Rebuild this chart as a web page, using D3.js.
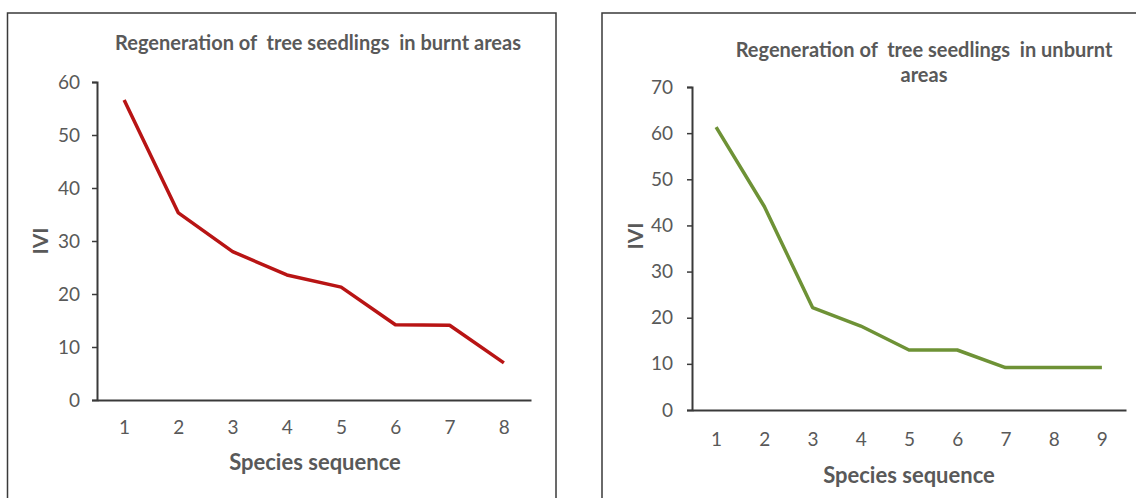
<!DOCTYPE html>
<html>
<head>
<meta charset="utf-8">
<script src="https://cdn.jsdelivr.net/npm/d3@7"></script>
<style>
  body { margin: 0; background: #fff; }
  svg { display: block; }
  text { font-family: Lato, "Open Sans", sans-serif; fill: #595959; }
</style>
</head>
<body>
<svg id="chart" width="1136" height="498"></svg>
<script>
// burnt areas
var burntSpecies = [1, 2, 3, 4, 5, 6, 7, 8];
var burntIVI = [56.6, 35.3, 28.0, 23.6, 21.3, 14.2, 14.1, 7.0];
var burntTicks = [0, 10, 20, 30, 40, 50, 60];

// unburnt areas
var unburntSpecies = [1, 2, 3, 4, 5, 6, 7, 8, 9];
var unburntIVI = [61.3, 44.1, 22.2, 18.2, 13.0, 13.0, 9.2, 9.2, 9.2];
var unburntTicks = [0, 10, 20, 30, 40, 50, 60, 70];

var svg = d3.select("#chart");

// one framed panel with its own line chart
function drawPanel(p){
    var g = svg.append("g");

    g.append("rect")
        .attr("x", p.frame[0]).attr("y", p.frame[1])
        .attr("width", p.frame[2]).attr("height", p.frame[3])
        .attr("fill", "none")
        .attr("stroke", "#3a3a3a")
        .attr("stroke-width", 1.5);

    var x = d3.scaleLinear()
        .domain([0.5, p.species.length + 0.5])
        .range([p.left, p.right]);
    var y = d3.scaleLinear()
        .domain([0, d3.max(p.ticks)])
        .range([p.bottom, p.top]);

    // y axis
    var yAxis = g.append("g")
        .attr("transform", "translate(" + p.left + ",0)")
        .call(d3.axisLeft(y).tickValues(p.ticks).tickSize(5).tickPadding(p.yPad));
    yAxis.attr("font-size", null);
    yAxis.selectAll("text").style("font-size", "19px").attr("fill", "#595959");

    // x axis, no tick marks
    var xAxis = g.append("g")
        .attr("transform", "translate(0," + p.bottom + ")")
        .call(d3.axisBottom(x).tickValues(p.species).tickSize(0).tickPadding(p.xPad)
            .tickFormat(d3.format("d")));
    xAxis.attr("font-size", null);
    xAxis.selectAll("text").style("font-size", "19px").attr("fill", "#595959");

    g.selectAll(".domain").attr("stroke", "#3a3a3a").attr("stroke-width", 2);
    g.selectAll(".tick line").attr("stroke", "#3a3a3a").attr("stroke-width", 1.5);

    var line = d3.line()
        .x(function(d, i){ return x(p.species[i]); })
        .y(function(d){ return y(d); });

    g.append("path")
        .datum(p.values)
        .attr("d", line)
        .attr("fill", "none")
        .attr("stroke", p.color)
        .attr("stroke-width", 3.5)
        .attr("stroke-linejoin", "round");

    // title lines
    g.selectAll(".title").data(p.title).enter().append("text")
        .attr("x", p.titleX)
        .attr("y", function(d, i){ return p.titleY + i * 25; })
        .attr("text-anchor", "middle")
        .style("font-size", "20px")
        .style("font-weight", "bold")
        .attr("xml:space", "preserve")
        .text(function(d){ return d; });

    g.append("text")
        .attr("x", p.xLabel[0]).attr("y", p.xLabel[1])
        .attr("text-anchor", "middle")
        .style("font-size", "22px")
        .style("font-weight", "bold")
        .text("Species sequence");

    g.append("text")
        .attr("transform", "translate(" + p.yLabel[0] + "," + p.yLabel[1] + ") rotate(-90)")
        .attr("text-anchor", "middle")
        .style("font-size", "21px")
        .style("font-weight", "bold")
        .text("IVI");
}

drawPanel({
    frame: [7.5, 13, 548.5, 500],
    left: 97, right: 531, top: 82, bottom: 400,
    species: burntSpecies, values: burntIVI, ticks: burntTicks,
    color: "#b81414", yPad: 12, xPad: 21,
    title: ["Regeneration of  tree seedlings  in burnt areas"],
    titleX: 318, titleY: 50,
    xLabel: [315, 470], yLabel: [48, 241]
});

drawPanel({
    frame: [602, 13, 560, 500],
    left: 692, right: 1126, top: 87, bottom: 410,
    species: unburntSpecies, values: unburntIVI, ticks: unburntTicks,
    color: "#6e9236", yPad: 14, xPad: 23,
    title: ["Regeneration of  tree seedlings  in unburnt", "areas"],
    titleX: 924, titleY: 57,
    xLabel: [909, 483], yLabel: [643, 236]
});
</script>
</body>
</html>
